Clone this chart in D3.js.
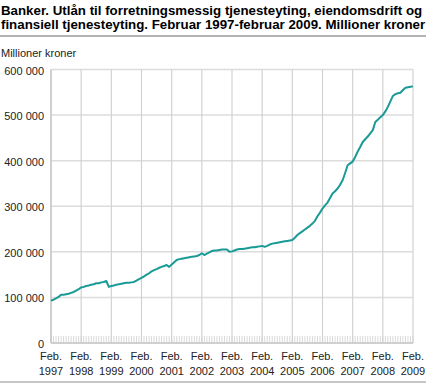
<!DOCTYPE html>
<html><head><meta charset="utf-8">
<script src="https://cdn.jsdelivr.net/npm/d3@7/dist/d3.min.js"></script>
<style>body{margin:0;background:#fff}svg{display:block;font-family:"Liberation Sans",Arial,sans-serif}</style>
</head><body><svg id="c" width="433" height="385"></svg>
<script>
const titleLines = ["Banker. Utlån til forretningsmessig tjenesteyting, eiendomsdrift og",
  "finansiell tjenesteyting. Februar 1997-februar 2009. Millioner kroner"];
const unitLabel = "Millioner kroner";
// Monthly values, thousands of NOK million, Feb 1997 .. Feb 2009
const values = [
  93, 95, 98, 101, 106, 106, 107, 108, 110, 112, 115, 118,
  122, 123, 125, 126, 128, 129, 131, 131, 133, 134, 136, 123,
  125, 126, 128, 129, 130, 131, 132, 132, 133, 134, 137, 140,
  143, 146, 150, 153, 157, 160, 162, 165, 167, 169, 171, 167,
  172, 177, 182, 184, 185, 186, 187, 188, 189, 190, 191, 193,
  197, 193, 196, 199, 202, 203, 203, 204, 205, 205, 205, 200,
  201, 203, 205, 206, 206, 207, 208, 209, 210, 210, 211, 212,
  213, 211, 213, 216, 218, 219, 220, 221, 222, 223, 224, 225,
  226, 231, 237, 241, 245, 249, 253, 257, 262, 268, 278, 286,
  295, 302, 308, 318, 328, 333, 339, 347, 357, 373, 390, 394,
  398, 408, 420, 430, 441, 447, 453, 460, 467, 485, 490, 495,
  500, 508, 518, 530, 542, 546, 548, 549, 555, 560, 561, 562,
  563
].map(v => v * 1000);
const yTicks = [0, 100000, 200000, 300000, 400000, 500000, 600000];
const yTickLabels = ["0", "100 000", "200 000", "300 000", "400 000", "500 000", "600 000"];
const xYears = [1997,1998,1999,2000,2001,2002,2003,2004,2005,2006,2007,2008,2009];

const svg = d3.select("#c");
const L = 51, R = 413, T = 69.5, B = 343;
const x = d3.scaleLinear().domain([0, values.length - 1]).range([L, R]);
const y = d3.scaleLinear().domain([0, 600000]).range([B, T]);

// title
svg.append("g").selectAll("text").data(titleLines).join("text")
  .attr("x", 1).attr("y", (d, i) => 15 + i * 14)
  .attr("font-size", 13.3).attr("font-weight", "bold").attr("fill", "#000").text(d => d);
svg.append("line").attr("x1", 0).attr("x2", 426).attr("y1", 36).attr("y2", 36)
  .attr("stroke", "#b3b3b3").attr("stroke-width", 2);
svg.append("line").attr("x1", 0).attr("x2", 426).attr("y1", 382).attr("y2", 382)
  .attr("stroke", "#b3b3b3").attr("stroke-width", 1.5);
svg.append("text").attr("x", 1).attr("y", 56.5).attr("font-size", 11).attr("fill", "#222").text(unitLabel);

// horizontal grid
svg.append("g").selectAll("line").data(yTicks).join("line")
  .attr("x1", L).attr("x2", R).attr("y1", d => y(d)).attr("y2", d => y(d))
  .attr("stroke", "#dcdcdc").attr("stroke-width", 1.5);
// vertical grid at each Feb
const yearIdx = xYears.map((yr, i) => i * 12);
svg.append("g").selectAll("line").data(yearIdx).join("line")
  .attr("x1", d => x(d)).attr("x2", d => x(d)).attr("y1", T).attr("y2", B)
  .attr("stroke", "#d2d2d2").attr("stroke-width", 1.2);
// monthly minor ticks
svg.append("g").selectAll("line").data(d3.range(values.length)).join("line")
  .attr("x1", d => x(d)).attr("x2", d => x(d)).attr("y1", B - 7).attr("y2", B)
  .attr("stroke", "#d0d0d0").attr("stroke-width", 0.8);
// left axis line & bottom
svg.append("line").attr("x1", L).attr("x2", L).attr("y1", T).attr("y2", B)
  .attr("stroke", "#c8c8c8").attr("stroke-width", 1.5);
svg.append("line").attr("x1", L).attr("x2", R).attr("y1", B).attr("y2", B)
  .attr("stroke", "#c8c8c8").attr("stroke-width", 1.5);

// y labels
svg.append("g").selectAll("text").data(yTicks).join("text")
  .attr("x", 44).attr("y", d => y(d) + 5).attr("text-anchor", "end")
  .attr("font-size", 11).attr("fill", "#222").text((d, i) => yTickLabels[i]);
// x labels
const xl = svg.append("g").selectAll("text").data(xYears).join("text")
  .attr("x", (d, i) => x(i * 12)).attr("y", 360).attr("text-anchor", "middle")
  .attr("font-size", 11).attr("fill", "#222");
xl.append("tspan").attr("x", (d, i) => x(i * 12)).text("Feb.");
xl.append("tspan").attr("x", (d, i) => x(i * 12)).attr("dy", 15).text(d => d);

// line
svg.append("path").datum(values)
  .attr("d", d3.line().x((d, i) => x(i)).y(d => y(d)))
  .attr("fill", "none").attr("stroke", "#1a9a96").attr("stroke-width", 2).attr("stroke-linejoin", "round");
</script></body></html>
